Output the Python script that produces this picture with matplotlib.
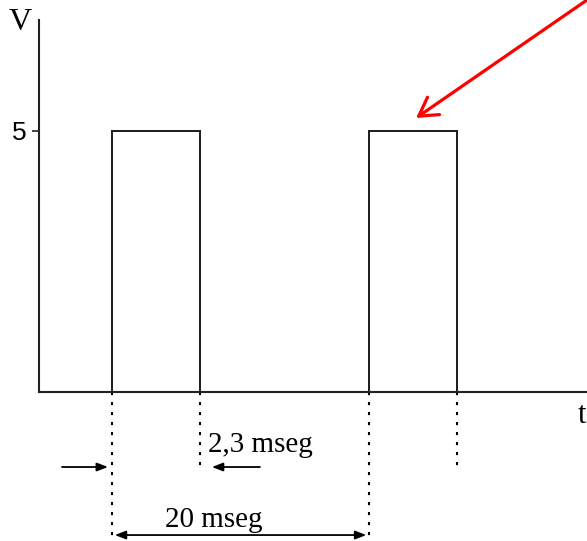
import numpy as np
import matplotlib
matplotlib.use("Agg")
import matplotlib.pyplot as plt
import matplotlib.transforms as mtransforms

# Pulse train (time in ms, voltage in V)
pulse_starts = [0.0, 20.0]
pulse_width = 2.3
v_high = 5
y_ticks = [5]
y_tick_labels = ["5"]
width_label = "2,3 mseg"
period_label = "20 mseg"
y_axis_label = "V"
x_axis_label = "t"

# Schematic time axis: the high part of each pulse is drawn magnified
stretch = 4.0
t_knots = np.array([-1000.0] + sorted(
    [s for s in pulse_starts] + [s + pulse_width for s in pulse_starts]) + [1000.0])


def _stretched(t):
    t = np.asarray(t, dtype=float)
    extra = sum(np.clip(t - s, 0.0, pulse_width) for s in pulse_starts)
    return t + (stretch - 1.0) * extra


u_knots = _stretched(t_knots)


def forward(t):
    return np.interp(np.asarray(t, dtype=float), t_knots, u_knots)


def inverse(u):
    return np.interp(np.asarray(u, dtype=float), u_knots, t_knots)


serif = "Liberation Serif"
ink = "#1a1a1a"

fig = plt.figure(figsize=(5.87, 5.41), dpi=100)
ax = fig.add_axes([39 / 587, 149 / 541, 548 / 587, 372 / 541])
ax.set_xscale("function", functions=(forward, inverse))
ax.set_xlim(-7.64, 35.9)
ax.set_ylim(0, 7.126)

for side in ("top", "right"):
    ax.spines[side].set_visible(False)
for side in ("left", "bottom"):
    ax.spines[side].set_linewidth(1.5)
    ax.spines[side].set_color("#222222")

ax.set_xticks([])
ax.set_yticks(y_ticks)
ax.set_yticklabels(y_tick_labels, fontfamily="Liberation Sans", fontsize=19)
ax.tick_params(axis="y", length=5, width=1.2, pad=4, color="#222222")

# Pulses
for s in pulse_starts:
    ax.plot([s, s, s + pulse_width, s + pulse_width], [0, v_high, v_high, 0],
            color=ink, lw=1.4, solid_joinstyle="miter")

# Dotted reference lines below the time axis
y_width_dim = -1.437
y_period_dim = -2.74
dot_style = dict(color="black", lw=1.5, linestyle=(0, (1.5, 3.3)), clip_on=False)
for s in pulse_starts:
    ax.plot([s, s], [0, -2.835], **dot_style)
    ax.plot([s + pulse_width, s + pulse_width], [0, y_width_dim], **dot_style)

# Pulse-width dimension arrows (pointing inwards from outside)
small_head = "-|>,head_length=0.65,head_width=0.25"
ax.annotate("", xy=(pulse_starts[0], y_width_dim), xytext=(-50, 0),
            textcoords="offset pixels", annotation_clip=False,
            arrowprops=dict(arrowstyle=small_head, lw=1.3, color="black",
                            shrinkA=0, shrinkB=2.9))
ax.annotate("", xy=(pulse_starts[0] + pulse_width, y_width_dim), xytext=(60, 0),
            textcoords="offset pixels", annotation_clip=False,
            arrowprops=dict(arrowstyle=small_head, lw=1.3, color="black",
                            shrinkA=0, shrinkB=8.6))
ax.annotate(width_label, xy=(pulse_starts[0] + pulse_width, 0), xytext=(8, -60),
            textcoords="offset pixels", ha="left", va="baseline",
            fontfamily=serif, fontsize=21, annotation_clip=False)

# Period dimension arrow
ax.annotate("", xy=(pulse_starts[1], y_period_dim), xytext=(pulse_starts[0], y_period_dim),
            annotation_clip=False,
            arrowprops=dict(arrowstyle="<|-|>,head_length=0.65,head_width=0.25",
                            lw=1.3, color="black", shrinkA=2, shrinkB=2))
ax.annotate(period_label, xy=(pulse_starts[0], 0), xytext=(53, -135),
            textcoords="offset pixels", ha="left", va="baseline",
            fontfamily=serif, fontsize=21, annotation_clip=False)

# Red pointer to the second pulse
tip = ax.transData + mtransforms.ScaledTranslation(0.03, 0.13, fig.dpi_scale_trans)
ax.annotate("", xy=(pulse_starts[1] + pulse_width / 2, v_high), xycoords=tip,
            xytext=(600, 550), textcoords="figure pixels", annotation_clip=False,
            arrowprops=dict(arrowstyle="->,head_length=1.3,head_width=0.76",
                            lw=2.3, color="red", shrinkA=0, shrinkB=0,
                            mutation_scale=10))

# Axis names
fig.text(20 / 587, (541 - 30) / 541, y_axis_label, ha="center", va="baseline",
         fontfamily=serif, fontsize=23)
fig.text(586 / 587, (541 - 423) / 541, x_axis_label, ha="right", va="baseline",
         fontfamily=serif, fontsize=22)

fig.savefig("out.png", dpi=100)
